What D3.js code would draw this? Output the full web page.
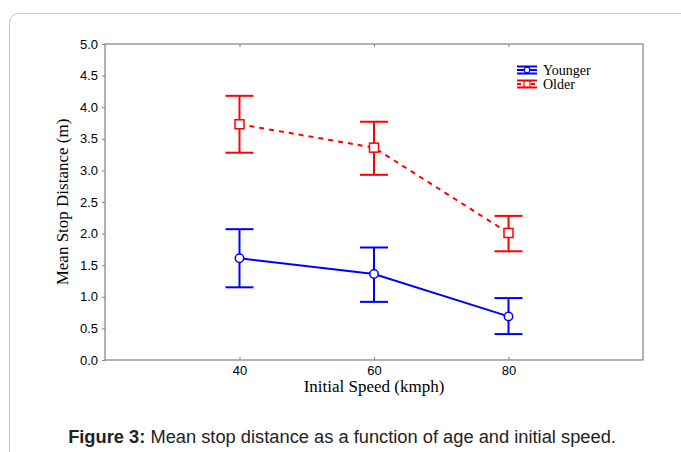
<!DOCTYPE html>
<html>
<head>
<meta charset="utf-8">
<script src="https://cdn.jsdelivr.net/npm/d3@7"></script>
<style>
  body { margin: 0; background: #fff; }
  svg { display: block; }
</style>
</head>
<body>
<svg id="chart"></svg>
<script>
// Data
const speeds = [40, 60, 80];
const xTicks = [40, 60, 80];
const yTicks = [0, 0.5, 1, 1.5, 2, 2.5, 3, 3.5, 4, 4.5, 5];

const youngerMean = [1.61, 1.36, 0.69];
const youngerUpper = [2.07, 1.78, 0.98];
const youngerLower = [1.15, 0.92, 0.41];

const olderMean = [3.73, 3.36, 2.01];
const olderUpper = [4.18, 3.77, 2.28];
const olderLower = [3.28, 2.93, 1.72];

const seriesNames = ["Younger", "Older"];

const w = 681;
const h = 452;
const padLeft = 105, padRight = 643, padTop = 44, padBottom = 360;

const svg = d3.select("#chart")
  .attr("width", w)
  .attr("height", h);

// card border
svg.append("rect")
  .attr("x", 9.5).attr("y", 13.5)
  .attr("width", 720).attr("height", 500)
  .attr("rx", 9)
  .attr("fill", "none")
  .attr("stroke", "#c4c4c4")
  .attr("stroke-width", 1);

//Scales
const xScale = d3.scaleLinear().domain([20, 100]).range([padLeft, padRight]);
const yScale = d3.scaleLinear().domain([0, 5]).range([padBottom, padTop]);

//Frame
svg.append("rect")
  .attr("x", padLeft).attr("y", padTop)
  .attr("width", padRight - padLeft).attr("height", padBottom - padTop)
  .attr("fill", "none")
  .attr("stroke", "#808080")
  .attr("stroke-width", 1.2);

//Axes
const yAxis = d3.axisLeft(yScale)
  .tickValues(yTicks)
  .tickSize(3)
  .tickPadding(4)
  .tickFormat(d3.format(".1f"));
const gy = svg.append("g")
  .attr("transform", "translate(" + padLeft + ",0)")
  .call(yAxis);
gy.select(".domain").remove();
gy.selectAll("line").attr("stroke", "#808080");
gy.selectAll("text")
  .attr("font-family", "Liberation Sans, Arial, sans-serif")
  .attr("font-size", 13)
  .attr("fill", "#000");

const xAxis = d3.axisBottom(xScale)
  .tickValues(xTicks)
  .tickSizeInner(-3)
  .tickSizeOuter(0)
  .tickPadding(6);
const gx = svg.append("g")
  .attr("transform", "translate(0," + padBottom + ")")
  .call(xAxis);
gx.select(".domain").remove();
gx.selectAll("line").attr("stroke", "#808080");
gx.selectAll("text")
  .attr("font-family", "Liberation Sans, Arial, sans-serif")
  .attr("font-size", 13)
  .attr("fill", "#000");

// ticks on the top edge
const gTop = svg.append("g")
  .attr("transform", "translate(0," + padTop + ")")
  .call(d3.axisTop(xScale).tickValues(xTicks).tickSizeInner(-3).tickSizeOuter(0).tickFormat(""));
gTop.select(".domain").remove();
gTop.selectAll("line").attr("stroke", "#808080");

//Labels
svg.append("text")
  .attr("transform", "translate(68," + ((padTop + padBottom) / 2) + ") rotate(-90)")
  .attr("text-anchor", "middle")
  .attr("font-family", "Liberation Serif, Times New Roman, serif")
  .attr("font-size", 17)
  .text("Mean Stop Distance (m)");

svg.append("text")
  .attr("x", 374)
  .attr("y", 392)
  .attr("text-anchor", "middle")
  .attr("font-family", "Liberation Serif, Times New Roman, serif")
  .attr("font-size", 17)
  .text("Initial Speed (kmph)");

const caption = svg.append("text")
  .attr("x", 342)
  .attr("y", 443)
  .attr("text-anchor", "middle")
  .attr("font-family", "Liberation Sans, Arial, sans-serif")
  .attr("font-size", 18.3)
  .attr("fill", "#222");
caption.append("tspan").attr("font-weight", "bold").text("Figure 3:");
caption.append("tspan").text(" Mean stop distance as a function of age and initial speed.");

//Series
function drawSeries(mean, upper, lower, color, dash, marker) {
  const g = svg.append("g");
  const pts = speeds.map((s, i) => ({ s: s, m: mean[i], u: upper[i], l: lower[i] }));

  g.append("path")
    .datum(pts)
    .attr("fill", "none")
    .attr("stroke", color)
    .attr("stroke-width", 2)
    .attr("stroke-dasharray", dash)
    .attr("d", d3.line().x(d => xScale(d.s)).y(d => yScale(d.m)));

  // error bars
  g.selectAll(".bar").data(pts).enter().append("line")
    .attr("x1", d => xScale(d.s)).attr("x2", d => xScale(d.s))
    .attr("y1", d => yScale(d.u)).attr("y2", d => yScale(d.l))
    .attr("stroke", color).attr("stroke-width", 2);
  g.selectAll(".capU").data(pts).enter().append("line")
    .attr("x1", d => xScale(d.s) - 14).attr("x2", d => xScale(d.s) + 14)
    .attr("y1", d => yScale(d.u)).attr("y2", d => yScale(d.u))
    .attr("stroke", color).attr("stroke-width", 2);
  g.selectAll(".capL").data(pts).enter().append("line")
    .attr("x1", d => xScale(d.s) - 14).attr("x2", d => xScale(d.s) + 14)
    .attr("y1", d => yScale(d.l)).attr("y2", d => yScale(d.l))
    .attr("stroke", color).attr("stroke-width", 2);

  if (marker === "circle") {
    g.selectAll(".pt").data(pts).enter().append("circle")
      .attr("cx", d => xScale(d.s)).attr("cy", d => yScale(d.m))
      .attr("r", 4.2)
      .attr("fill", "#fff").attr("stroke", color).attr("stroke-width", 1.5);
  } else {
    g.selectAll(".pt").data(pts).enter().append("rect")
      .attr("x", d => xScale(d.s) - 4.5).attr("y", d => yScale(d.m) - 4.5)
      .attr("width", 9).attr("height", 9)
      .attr("fill", "#fff").attr("stroke", color).attr("stroke-width", 1.5);
  }
}

drawSeries(youngerMean, youngerUpper, youngerLower, "#0000ff", null, "circle");
drawSeries(olderMean, olderUpper, olderLower, "#ff0000", "5,5", "square");

//Legend
const legendColors = ["#0000ff", "#ff0000"];
const legend = svg.append("g").attr("transform", "translate(517,70)");
seriesNames.forEach((name, i) => {
  const lg = legend.append("g").attr("transform", "translate(0," + (i * 14) + ")");
  const c = legendColors[i];
  lg.append("line").attr("x1", 0).attr("x2", 20).attr("y1", -3.5).attr("y2", -3.5).attr("stroke", c).attr("stroke-width", 2);
  lg.append("line").attr("x1", 0).attr("x2", 20).attr("y1", 3.5).attr("y2", 3.5).attr("stroke", c).attr("stroke-width", 2);
  lg.append("line").attr("x1", 0).attr("x2", 20).attr("y1", 0).attr("y2", 0).attr("stroke", c).attr("stroke-width", 2)
    .attr("stroke-dasharray", i === 1 ? "4,3" : null);
  lg.append("line").attr("x1", 10).attr("x2", 10).attr("y1", -3.5).attr("y2", 3.5).attr("stroke", c).attr("stroke-width", 2);
  if (i === 0) {
    lg.append("circle").attr("cx", 10).attr("cy", 0).attr("r", 2.8).attr("fill", "#fff").attr("stroke", c).attr("stroke-width", 1.2);
  } else {
    lg.append("rect").attr("x", 7).attr("y", -3).attr("width", 6).attr("height", 6).attr("fill", "#fff").attr("stroke", c).attr("stroke-width", 1.2);
  }
  lg.append("text")
    .attr("x", 26).attr("y", 4.5)
    .attr("font-family", "Liberation Serif, Times New Roman, serif")
    .attr("font-size", 14)
    .text(name);
});
</script>
</body>
</html>
